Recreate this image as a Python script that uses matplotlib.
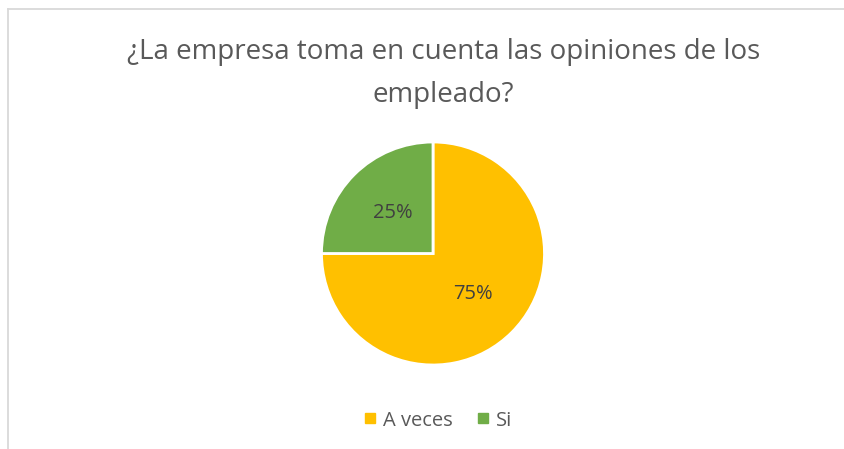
import matplotlib.pyplot as plt
from matplotlib.lines import Line2D

title = "¿La empresa toma en cuenta las opiniones de los\nempleado?"
labels = ["A veces", "Si"]
values = [75, 25]
colors = ["#FFC000", "#70AD47"]

plt.rcParams['font.family'] = ['Open Sans', 'DejaVu Sans']

W, H = 844, 449
fig = plt.figure(figsize=(W / 100, H / 100), dpi=100)
fig.patch.set_facecolor('white')

# chart border (left and top visible)
fig.add_artist(Line2D([7.5 / W, 7.5 / W], [0, 1 - 9 / H], transform=fig.transFigure,
                      color='#D9D9D9', lw=1.3))
fig.add_artist(Line2D([7.5 / W, 1], [1 - 9 / H, 1 - 9 / H], transform=fig.transFigure,
                      color='#D9D9D9', lw=1.3))

fig.text(443.5 / W, 1 - 73.5 / H, title, ha='center', va='center', fontsize=20,
         color='#595959', linespacing=1.72)

cx, cy, r = 433, 253.5, 111.5
ax = fig.add_axes([(cx - r) / W, (H - cy - r) / H, 2 * r / W, 2 * r / H])
wedges, texts, autotexts = ax.pie(
    values, colors=colors, startangle=90, counterclock=False,
    autopct='%1.0f%%', pctdistance=0.51,
    wedgeprops=dict(edgecolor='white', linewidth=2),
    textprops=dict(color='#404040', fontsize=14.5))
ax.set_xlim(-1, 1)
ax.set_ylim(-1, 1)
ax.set_aspect('equal')
ax.axis('off')

handles = [Line2D([], [], marker='s', linestyle='none', markersize=6.5,
                  markerfacecolor=c, markeredgecolor=c) for c in colors]
fig.legend(handles, labels, loc='center', bbox_to_anchor=(436 / W, 1 - 420.5 / H),
           ncol=2, frameon=False, fontsize=14.5, labelcolor='#595959',
           handletextpad=0.15, columnspacing=1.0, handlelength=1.0)

fig.savefig('out.png', dpi=100)
